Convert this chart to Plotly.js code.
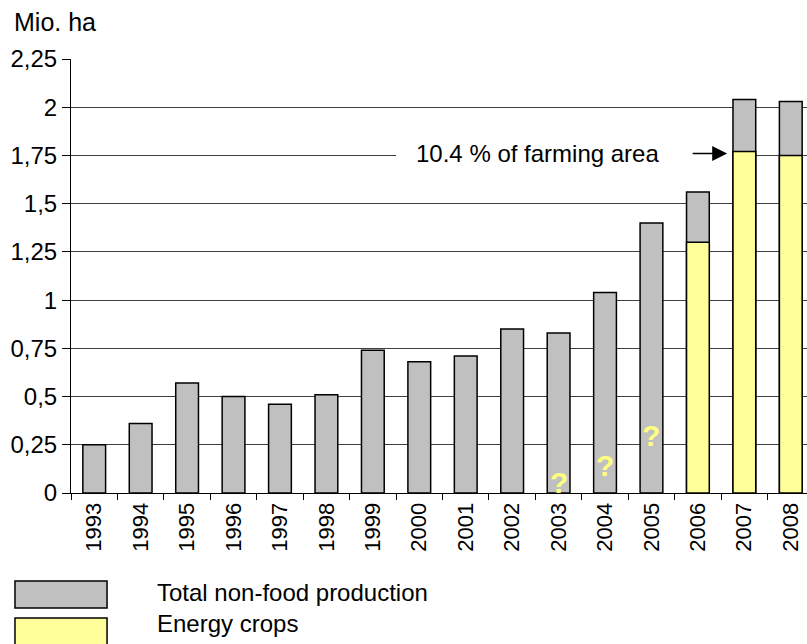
<!DOCTYPE html>
<html>
<head>
<meta charset="utf-8">
<script src="https://cdn.plot.ly/plotly-3.0.1.min.js"></script>
<style>
  html, body { margin: 0; padding: 0; background: #fff; overflow: hidden; }
  #chart { width: 814px; height: 644px; }
</style>
</head>
<body>
<div id="chart"></div>
<script>
// Non-food crop area in Germany, million hectares
const years = ['1993','1994','1995','1996','1997','1998','1999','2000',
               '2001','2002','2003','2004','2005','2006','2007','2008'];
const totalNonFood = [0.25, 0.36, 0.57, 0.50, 0.46, 0.51, 0.74, 0.68,
                      0.71, 0.85, 0.83, 1.04, 1.40, 1.56, 2.04, 2.03];
const energyCrops  = [null, null, null, null, null, null, null, null,
                      null, null, null, null, null, 1.30, 1.77, 1.75];
const yTickVals = [0, 0.25, 0.5, 0.75, 1, 1.25, 1.5, 1.75, 2, 2.25];
const yTickText = ['0', '0,25', '0,5', '0,75', '1', '1,25', '1,5', '1,75', '2', '2,25'];
const unknownYears = ['2003', '2004', '2005'];
const seriesNames = ['Total non-food production', 'Energy crops'];

const FONT = 'Arial, "Liberation Sans", sans-serif';
const GRAY = '#c0c0c0';
const YELLOW = '#ffff99';

const traces = [
  {
    type: 'bar', x: years, y: totalNonFood, name: seriesNames[0],
    marker: { color: GRAY, line: { color: '#000', width: 1.5 } },
    hoverinfo: 'x+y'
  },
  {
    type: 'bar', x: years, y: energyCrops, name: seriesNames[1],
    marker: { color: YELLOW, line: { color: '#000', width: 1.5 } },
    hoverinfo: 'x+y'
  }
];

// question marks over the years without energy-crop figures
const qOffsets = [0.057, 0.145, 0.30];
const qAnn = unknownYears.map((yr, i) => ({
  x: years.indexOf(yr), y: qOffsets[i], xref: 'x', yref: 'y',
  text: '<b>?</b>', showarrow: false, yanchor: 'middle',
  font: { family: FONT, size: 30, color: '#ffff80' }
}));

const layout = {
  width: 814, height: 644,
  margin: { l: 71, r: 0, t: 59, b: 151 },
  paper_bgcolor: '#fff', plot_bgcolor: '#fff',
  showlegend: false,
  barmode: 'overlay',
  bargap: 0.51,
  font: { family: FONT, size: 24, color: '#000' },
  xaxis: {
    type: 'category',
    tickangle: -90,
    ticks: 'outside', tickson: 'boundaries', ticklen: 6, tickcolor: '#000',
    showline: true, linecolor: '#000', linewidth: 1,
    showgrid: false, zeroline: false,
    tickfont: { family: FONT, size: 22, color: '#000' },
    fixedrange: true
  },
  yaxis: {
    range: [0, 2.25],
    tickvals: yTickVals, ticktext: yTickText,
    ticks: 'outside', ticklen: 8, tickcolor: '#000',
    showline: true, linecolor: '#000', linewidth: 1,
    showgrid: true, gridcolor: '#404040', gridwidth: 1,
    zeroline: false,
    tickfont: { family: FONT, size: 24, color: '#000' },
    fixedrange: true
  },
  shapes: [
    // white gap in the 1,75 gridline behind the label
    { type: 'rect', layer: 'between', xref: 'x', yref: 'y',
      x0: 6.5, x1: 13.78, y0: 1.72, y1: 1.79,
      fillcolor: '#fff', line: { width: 0 } },
    // legend swatches
    { type: 'rect', xref: 'paper', yref: 'paper',
      x0: -0.0754, x1: 0.0485, y0: -0.265, y1: -0.2028,
      fillcolor: GRAY, line: { color: '#000', width: 1.5 } },
    { type: 'rect', xref: 'paper', yref: 'paper',
      x0: -0.0754, x1: 0.0485, y0: -0.355, y1: -0.288,
      fillcolor: YELLOW, line: { color: '#000', width: 1.5 } }
  ],
  annotations: [
    { xref: 'paper', yref: 'paper', x: -0.0795, y: 1.085,
      xanchor: 'left', yanchor: 'middle', showarrow: false,
      text: 'Mio. ha', font: { family: FONT, size: 25, color: '#000' } },
    { xref: 'x', yref: 'y', x: 9.545, y: 1.76,
      xanchor: 'center', yanchor: 'middle', showarrow: false,
      text: '10.4 % of farming area', font: { family: FONT, size: 24, color: '#000' } },
    { xref: 'x', yref: 'y', x: 13.63, y: 1.76,
      ax: -36, ay: 0, showarrow: true, text: '',
      arrowhead: 2, arrowsize: 2, arrowwidth: 1.5, arrowcolor: '#000' },
    { xref: 'paper', yref: 'paper', x: 0.1131, y: -0.2304,
      xanchor: 'left', yanchor: 'middle', showarrow: false,
      text: seriesNames[0], font: { family: FONT, size: 24, color: '#000' } },
    { xref: 'paper', yref: 'paper', x: 0.1131, y: -0.301,
      xanchor: 'left', yanchor: 'middle', showarrow: false,
      text: seriesNames[1], font: { family: FONT, size: 24, color: '#000' } }
  ].concat(qAnn)
};

Plotly.newPlot('chart', traces, layout, { displayModeBar: false, staticPlot: true });
</script>
</body>
</html>
